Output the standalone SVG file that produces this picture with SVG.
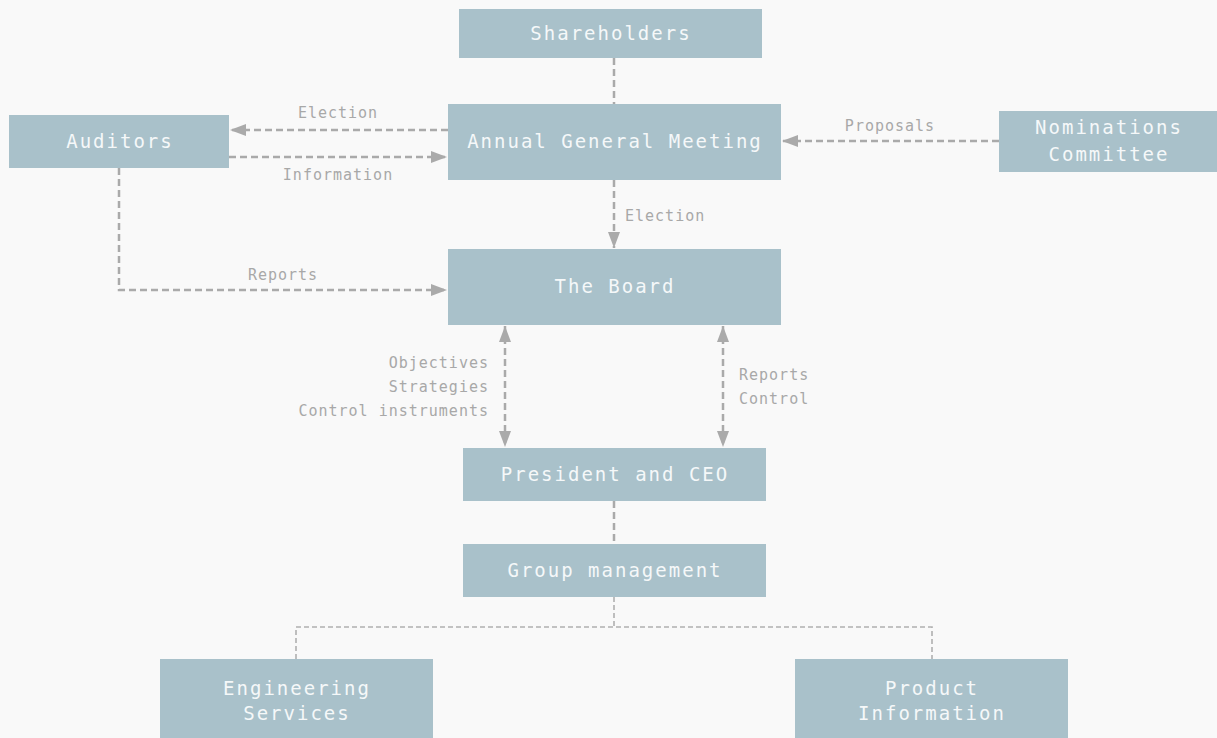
<svg xmlns="http://www.w3.org/2000/svg" width="1217" height="738" viewBox="0 0 1217 738">
  <style>
    .box { fill: #a9c1ca; }
    .nt { fill: #f5f8f9; font-family: "DejaVu Sans Mono", "Liberation Mono", monospace; font-size: 19px; letter-spacing: 2px; text-anchor: middle; }
    .lbl { fill: #a8a8a8; font-family: "DejaVu Sans Mono", "Liberation Mono", monospace; font-size: 15px; letter-spacing: 1px; }
    .link { fill: none; stroke: #aaaaaa; stroke-width: 2.5; stroke-dasharray: 7 4; }
    .tree { fill: none; stroke: #b0b0b0; stroke-width: 1.6; stroke-dasharray: 5 3; }
  </style>
  <defs>
    <marker id="arrow" viewBox="0 0 16 12" refX="16" refY="6" markerWidth="16" markerHeight="12" markerUnits="userSpaceOnUse" orient="auto-start-reverse">
      <path d="M0,0 L16,6 L0,12 Z" fill="#aaaaaa"/>
    </marker>
  </defs>

  <rect width="1217" height="738" fill="#f9f9f9"/>

  <!-- connectors -->
  <g id="connectors">
    <line class="link" x1="614" y1="58" x2="614" y2="104"/>
    <line class="link" x1="448" y1="130" x2="230" y2="130" marker-end="url(#arrow)"/>
    <line class="link" x1="229" y1="157" x2="447" y2="157" marker-end="url(#arrow)"/>
    <line class="link" x1="999" y1="141" x2="782" y2="141" marker-end="url(#arrow)"/>
    <line class="link" x1="614" y1="180" x2="614" y2="248" marker-end="url(#arrow)"/>
    <polyline class="link" points="119,168 119,290 447,290" marker-end="url(#arrow)"/>
    <line class="link" x1="505" y1="326" x2="505" y2="447" marker-start="url(#arrow)" marker-end="url(#arrow)"/>
    <line class="link" x1="723" y1="326" x2="723" y2="447" marker-start="url(#arrow)" marker-end="url(#arrow)"/>
    <line class="link" x1="614" y1="501" x2="614" y2="544"/>
    <polyline class="tree" points="614,597 614,627"/>
    <polyline class="tree" points="296,659 296,627 932,627 932,659"/>

    <text class="lbl" x="338" y="118" text-anchor="middle">Election</text>
    <text class="lbl" x="338" y="180" text-anchor="middle">Information</text>
    <text class="lbl" x="890" y="131" text-anchor="middle">Proposals</text>
    <text class="lbl" x="625" y="221">Election</text>
    <text class="lbl" x="283" y="280" text-anchor="middle">Reports</text>
    <text class="lbl" x="489" y="368" text-anchor="end">Objectives</text>
    <text class="lbl" x="489" y="392" text-anchor="end">Strategies</text>
    <text class="lbl" x="489" y="416" text-anchor="end">Control instruments</text>
    <text class="lbl" x="739" y="380">Reports</text>
    <text class="lbl" x="739" y="404">Control</text>
  </g>

  <!-- nodes -->
  <g id="shareholders">
    <rect class="box" x="459" y="9" width="303" height="49"/>
    <text class="nt" x="611" y="40">Shareholders</text>
  </g>
  <g id="agm">
    <rect class="box" x="448" y="104" width="333" height="76"/>
    <text class="nt" x="615" y="148">Annual General Meeting</text>
  </g>
  <g id="auditors">
    <rect class="box" x="9" y="115" width="220" height="53"/>
    <text class="nt" x="120" y="148">Auditors</text>
  </g>
  <g id="nominations">
    <rect class="box" x="999" y="111" width="218" height="61"/>
    <text class="nt" x="1109" y="134">Nominations</text>
    <text class="nt" x="1109" y="161">Committee</text>
  </g>
  <g id="board">
    <rect class="box" x="448" y="249" width="333" height="76"/>
    <text class="nt" x="615" y="293">The Board</text>
  </g>
  <g id="ceo">
    <rect class="box" x="463" y="448" width="303" height="53"/>
    <text class="nt" x="615" y="481">President and CEO</text>
  </g>
  <g id="group-management">
    <rect class="box" x="463" y="544" width="303" height="53"/>
    <text class="nt" x="615" y="577">Group management</text>
  </g>
  <g id="engineering">
    <rect class="box" x="160" y="659" width="273" height="85"/>
    <text class="nt" x="297" y="695">Engineering</text>
    <text class="nt" x="297" y="720">Services</text>
  </g>
  <g id="product-info">
    <rect class="box" x="795" y="659" width="273" height="85"/>
    <text class="nt" x="932" y="695">Product</text>
    <text class="nt" x="932" y="720">Information</text>
  </g>
</svg>
